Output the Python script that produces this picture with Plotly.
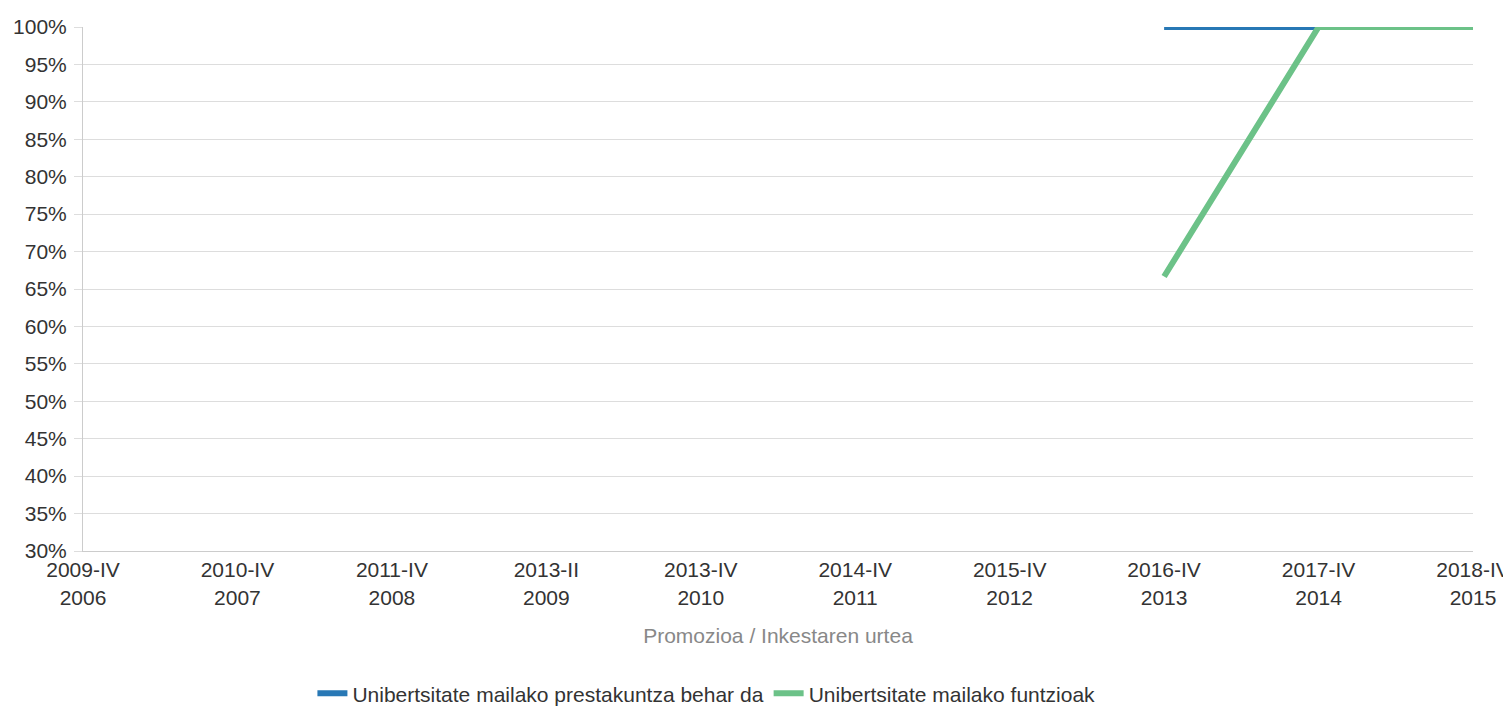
import plotly.graph_objects as go

categories = ["2009-IV<br>2006", "2010-IV<br>2007", "2011-IV<br>2008", "2013-II<br>2009",
              "2013-IV<br>2010", "2014-IV<br>2011", "2015-IV<br>2012", "2016-IV<br>2013",
              "2017-IV<br>2014", "2018-IV<br>2015"]
series1_name = "Unibertsitate mailako prestakuntza behar da"
series1 = [None, None, None, None, None, None, None, 1.0, 1.0, 1.0]
series2_name = "Unibertsitate mailako funtzioak"
series2 = [None, None, None, None, None, None, None, 0.6667, 1.0, 1.0]
y_ticks = [0.30, 0.35, 0.40, 0.45, 0.50, 0.55, 0.60, 0.65, 0.70, 0.75, 0.80, 0.85, 0.90, 0.95, 1.00]

fig = go.Figure()
fig.add_trace(go.Scatter(x=categories, y=series1, name=series1_name, mode="lines",
                         line=dict(color="#2878b5", width=6)))
fig.add_trace(go.Scatter(x=categories, y=series2, name=series2_name, mode="lines",
                         line=dict(color="#6cc288", width=6)))

fig.update_layout(
    width=1503, height=699,
    margin=dict(l=75, r=38, t=19, b=156),
    paper_bgcolor="white", plot_bgcolor="white",
    font=dict(family="Liberation Sans, Arial, sans-serif", size=21, color="#333333"),
    showlegend=True,
    legend=dict(orientation="h", x=0.4485, xanchor="center", yref="container", y=0.019, yanchor="middle",
                font=dict(size=21, color="#333333"), itemwidth=30, tracegroupgap=0),
    xaxis=dict(
        type="category", range=[0, 9], showgrid=False, automargin=False,
        showline=True, linecolor="#cccccc", linewidth=1,
        ticks="", tickfont=dict(size=21, color="#333333"),
        title=dict(text="Promozioa / Inkestaren urtea", font=dict(size=21, color="#888888"), standoff=20),
    ),
    yaxis=dict(
        range=[0.30, 1.00], tickvals=y_ticks, tickformat=".0%", automargin=False,
        showgrid=True, gridcolor="#dddddd", gridwidth=1,
        showline=True, linecolor="#cccccc", linewidth=1,
        ticks="outside", ticklen=8, tickcolor="#dddddd", ticklabelstandoff=3,
        tickfont=dict(size=21, color="#333333"), zeroline=False,
    ),
)

fig.write_html("out.html")
